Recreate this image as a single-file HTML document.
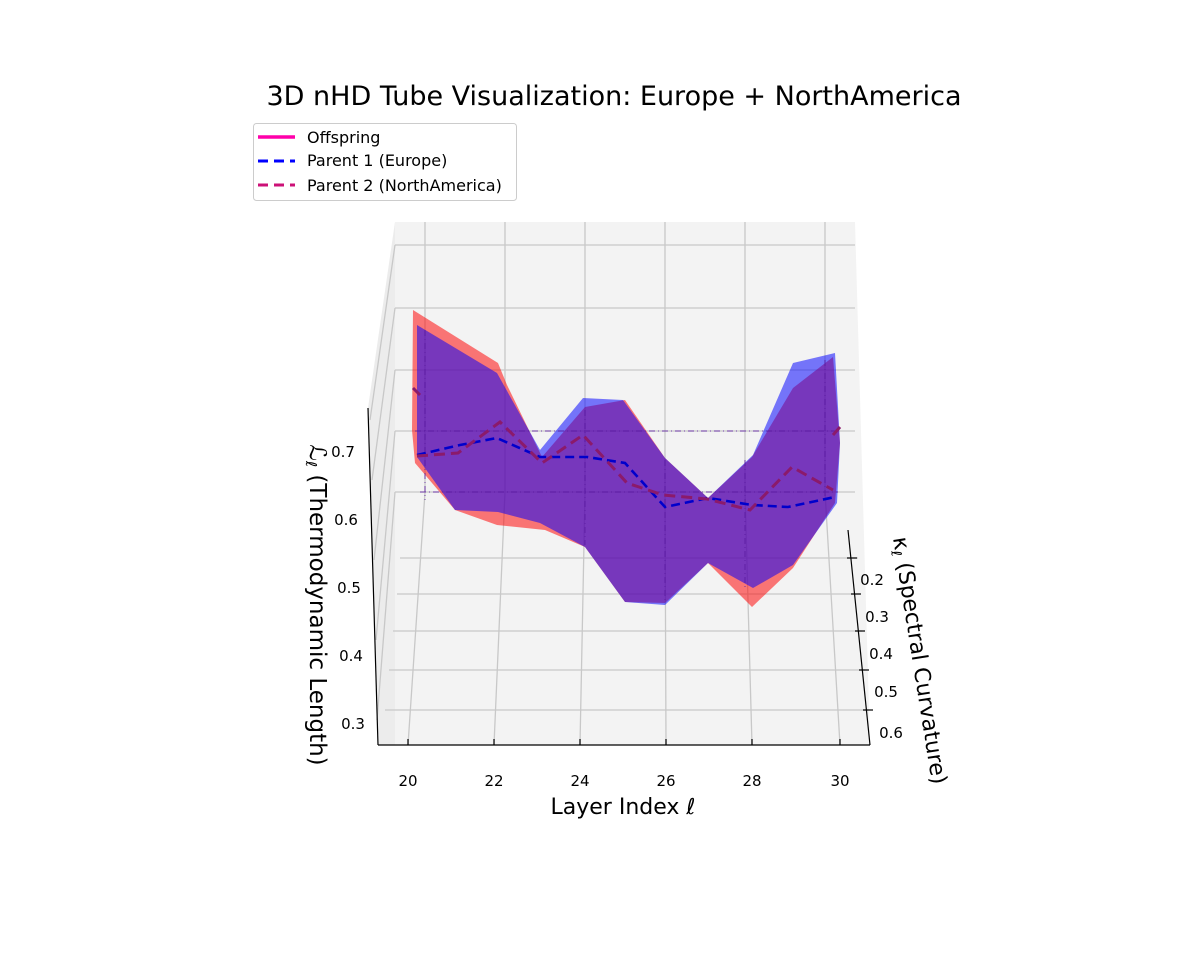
<!DOCTYPE html>
<html><head><meta charset="utf-8"><style>body{margin:0;background:#fff}svg{display:block;font-family:"DejaVu Sans","Liberation Sans",sans-serif}</style></head><body>
<svg width="1200" height="960" viewBox="0 0 1200 960">
<rect width="1200" height="960" fill="#fff"/>
<text x="614" y="105" font-size="27" text-anchor="middle" fill="#000">3D nHD Tube Visualization: Europe + NorthAmerica</text>
<!-- panes -->
<polygon points="395,222 855,222 870,745 378,745" fill="#f3f3f3"/>
<polygon points="395,222 368,408 378,745 395,745" fill="#ececec"/>
<g stroke="#c8c8c8" stroke-width="1.3" fill="none">
<line x1="395" y1="245" x2="855" y2="245"/><line x1="395" y1="308" x2="855" y2="308"/>
<line x1="395" y1="370" x2="855" y2="370"/><line x1="395" y1="431" x2="855" y2="431"/>
<line x1="395" y1="492" x2="855" y2="492"/>
<line x1="400" y1="558" x2="858" y2="558"/><line x1="397" y1="594" x2="860" y2="594"/>
<line x1="393" y1="631" x2="862" y2="631"/><line x1="389" y1="670" x2="865" y2="670"/>
<line x1="385" y1="710" x2="868" y2="710"/>
<polyline points="425,222 425,492 408,745"/><polyline points="505,222 505,492 494,745"/>
<polyline points="585,222 585,492 580,745"/><polyline points="665,222 665,492 666,745"/>
<polyline points="745,222 745,492 752,745"/><polyline points="825,222 825,492 840,745"/>
<polyline points="395,245 370,420"/><polyline points="395,308 372,480"/><polyline points="395,370 374,560"/><polyline points="395,431 376,640"/><polyline points="395,492 377,720"/>
</g>
<!-- surfaces -->
<polygon fill="#ff0000" fill-opacity="0.52" points="413,310 498,363 507,385 542,457 585,407 625,400 665,458 708,498 752,457 793,388 833,357 840,443 835,503 793,568 752,607 708,563 665,603 625,602 585,547 545,530 497,525 455,510 415,463 412,430"/>
<polygon fill="#0000ff" fill-opacity="0.52" points="417,325 497,373 540,450 583,398 623,400 665,458 708,498 753,455 793,363 835,353 840,443 837,503 793,565 753,588 708,563 665,605 625,602 585,547 540,523 498,512 455,510 417,457"/>
<g stroke="#5a1aa0" stroke-width="1" stroke-dasharray="6,3,1,3" fill="none" opacity="0.8">
<line x1="425" y1="330" x2="425" y2="500"/><line x1="585" y1="410" x2="585" y2="545"/><line x1="665" y1="460" x2="665" y2="600"/><line x1="745" y1="460" x2="745" y2="590"/><line x1="825" y1="360" x2="825" y2="500"/>
<line x1="415" y1="431" x2="840" y2="431"/><line x1="420" y1="492" x2="838" y2="492"/>
</g>
<!-- lines -->
<polyline fill="none" stroke="#0000cc" stroke-width="2.6" stroke-dasharray="9,5" points="417,455 460,445 497,438 540,457 587,457 625,463 665,507 708,498 752,505 788,507 835,497"/>
<polyline fill="none" stroke="#8b1a6b" stroke-width="3" stroke-dasharray="11,6" points="417,456 458,453 500,422 542,463 583,435 627,483 663,495 707,499 750,510 792,467 833,490"/>
<line x1="413" y1="388" x2="420" y2="395" stroke="#8b1a6b" stroke-width="3"/>
<line x1="833" y1="435" x2="840" y2="427" stroke="#8b1a6b" stroke-width="3"/>
<!-- axes -->
<g stroke="#000" stroke-width="1.2">
<line x1="378" y1="745" x2="870" y2="745"/>
<line x1="848" y1="530" x2="870" y2="745"/>
<line x1="368" y1="408" x2="378" y2="745"/>
<line x1="408" y1="745" x2="408" y2="739"/><line x1="494" y1="745" x2="494" y2="739"/><line x1="580" y1="745" x2="580" y2="739"/><line x1="666" y1="745" x2="666" y2="739"/><line x1="752" y1="745" x2="752" y2="739"/><line x1="840" y1="745" x2="840" y2="739"/>
<line x1="847" y1="558" x2="857" y2="558"/><line x1="851" y1="594" x2="861" y2="594"/><line x1="855" y1="631" x2="865" y2="631"/><line x1="859" y1="670" x2="869" y2="670"/><line x1="863" y1="710" x2="873" y2="710"/>
</g>
<g font-size="15" fill="#000" text-anchor="middle">
<text x="408" y="786">20</text><text x="494" y="786">22</text><text x="580" y="786">24</text><text x="666" y="786">26</text><text x="752" y="786">28</text><text x="840" y="786">30</text>
<text x="872" y="585">0.2</text><text x="877" y="622">0.3</text><text x="881" y="659">0.4</text><text x="886" y="697">0.5</text><text x="891" y="738">0.6</text>
<text x="343" y="457">0.7</text><text x="346" y="525">0.6</text><text x="349" y="593">0.5</text><text x="351" y="661">0.4</text><text x="353" y="729">0.3</text>
</g>
<text x="623" y="814" font-size="22" text-anchor="middle">Layer Index <tspan font-style="italic">ℓ</tspan></text>
<text transform="translate(893,538) rotate(81)" font-size="22">κ<tspan font-size="14" dy="4">ℓ</tspan><tspan dy="-4"> (Spectral Curvature)</tspan></text>
<text transform="translate(310,605) rotate(90)" font-size="23" text-anchor="middle"><tspan font-style="italic">ℒ</tspan><tspan font-size="15" dy="4">ℓ</tspan><tspan dy="-4"> (Thermodynamic Length)</tspan></text>
<!-- legend -->
<rect x="253.5" y="123.5" width="263" height="77" rx="3" fill="#fff" stroke="#ccc"/>
<line x1="258" y1="137" x2="295" y2="137" stroke="#ff00aa" stroke-width="3.5"/>
<line x1="258" y1="161" x2="295" y2="161" stroke="#0000ff" stroke-width="3" stroke-dasharray="10,6"/>
<line x1="258" y1="185" x2="295" y2="185" stroke="#cc1177" stroke-width="3" stroke-dasharray="10,6"/>
<g font-size="16" fill="#000"><text x="307" y="143">Offspring</text><text x="307" y="166">Parent 1 (Europe)</text><text x="307" y="191">Parent 2 (NorthAmerica)</text></g>
</svg>
</body></html>
